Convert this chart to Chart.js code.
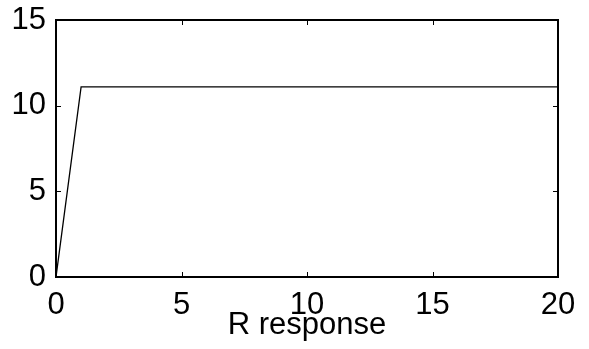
<!DOCTYPE html>
<html>
<head>
<meta charset="utf-8">
<title>R response</title>
<script src="https://cdn.jsdelivr.net/npm/chart.js@4/dist/chart.umd.min.js"></script>
<style>
  html, body { margin: 0; padding: 0; background: #fff; }
  #wrap { width: 589px; height: 349px; }
</style>
</head>
<body>
<div id="wrap"><canvas id="responseChart" width="589" height="349"></canvas></div>
<script>
// Data
const xValues = [0, 1, 20];
const yValues = [0, 11.1, 11.1];
const xTicks = [0, 5, 10, 15, 20];
const yTicks = [0, 5, 10, 15];
const xLabel = "R response";

const FONT = { family: "'Liberation Sans', Arial, sans-serif", size: 31 };

// Box around the plot with inward ticks on all four sides
const boxPlugin = {
  id: "box",
  afterDraw(chart) {
    const { ctx, chartArea: a, scales } = chart;
    ctx.save();
    ctx.strokeStyle = "#000";
    ctx.lineWidth = 1;
    xTicks.forEach(v => {
      const px = Math.round(scales.x.getPixelForValue(v)) + 0.5;
      ctx.beginPath();
      ctx.moveTo(px, a.bottom); ctx.lineTo(px, a.bottom - 5);
      ctx.moveTo(px, a.top); ctx.lineTo(px, a.top + 5);
      ctx.stroke();
    });
    yTicks.forEach(v => {
      const py = Math.round(scales.y.getPixelForValue(v)) + 0.5;
      ctx.beginPath();
      ctx.moveTo(a.left, py); ctx.lineTo(a.left + 5, py);
      ctx.moveTo(a.right, py); ctx.lineTo(a.right - 5, py);
      ctx.stroke();
    });
    ctx.lineWidth = 2;
    ctx.strokeRect(a.left, a.top, a.right - a.left, a.bottom - a.top);
    ctx.restore();
  }
};

new Chart(document.getElementById("responseChart"), {
  type: "scatter",
  data: {
    datasets: [{
      data: xValues.map((x, i) => ({ x, y: yValues[i] })),
      showLine: true,
      borderColor: "#000",
      borderWidth: 1.3,
      pointRadius: 0,
      tension: 0,
    }],
  },
  options: {
    responsive: false,
    animation: false,
    layout: { padding: { left: 0, right: 31, top: 20, bottom: 0 } },
    plugins: { legend: { display: false }, tooltip: { enabled: false } },
    scales: {
      x: {
        type: "linear",
        min: 0,
        max: 20,
        afterFit: s => { s.height = 72; s.paddingLeft = 0; s.paddingRight = 0; },
        afterBuildTicks: s => { s.ticks = xTicks.map(v => ({ value: v })); },
        grid: { display: false, drawTicks: false },
        border: { display: false },
        ticks: { color: "#000", font: FONT, padding: 10, maxRotation: 0 },
        title: { display: true, text: xLabel, color: "#000", font: FONT, padding: { top: 0, bottom: 5 } },
      },
      y: {
        type: "linear",
        min: 0,
        max: 15,
        afterFit: s => { s.width = 56; s.paddingTop = 0; s.paddingBottom = 0; },
        afterBuildTicks: s => { s.ticks = yTicks.map(v => ({ value: v })); },
        grid: { display: false, drawTicks: false },
        border: { display: false },
        ticks: { color: "#000", font: FONT, padding: 10 },
      },
    },
  },
  plugins: [boxPlugin],
});
</script>
</body>
</html>
